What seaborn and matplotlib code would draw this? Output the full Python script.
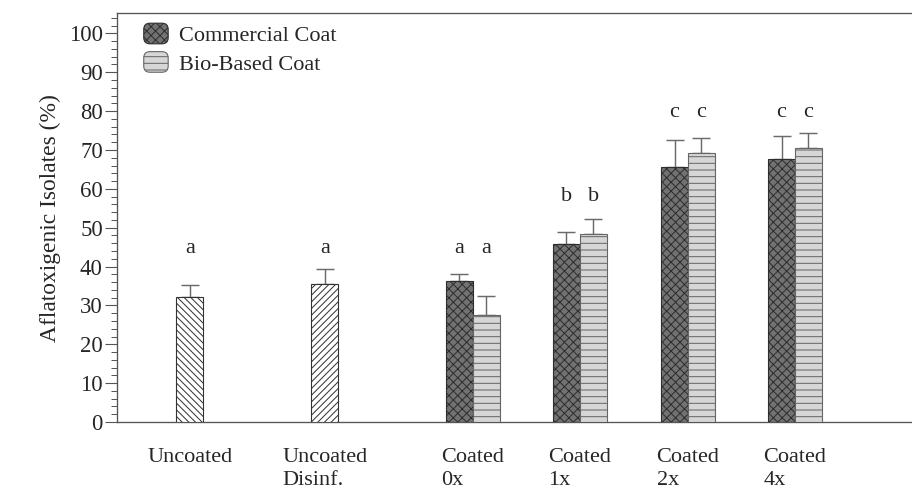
import numpy as np
import pandas as pd
import seaborn as sns
import matplotlib.pyplot as plt
from matplotlib.patches import FancyBboxPatch, Patch
from matplotlib.legend_handler import HandlerPatch
from matplotlib.ticker import MultipleLocator

# data
treatments = ["Uncoated", "Uncoated\nDisinf.", "Coated\n0x", "Coated\n1x", "Coated\n2x", "Coated\n4x"]
uncoated_vals = [32.2, 35.4]
uncoated_err = [3.1, 4.0]
uncoated_letters = ["a", "a"]
commercial_vals = [36.3, 45.7, 65.5, 67.6]
commercial_err = [1.9, 3.1, 7.0, 6.0]
commercial_letters = ["a", "b", "c", "c"]
bio_vals = [27.5, 48.3, 69.1, 70.6]
bio_err = [5.0, 4.0, 4.0, 3.8]
bio_letters = ["a", "b", "c", "c"]
letter_heights = {"a": 44.6, "b": 58.0, "c": 79.6}

# layout
centers = [0, 1.256, 2.633, 3.628, 4.633, 5.628]
bar_w = 0.25

rows = []
for i, (v, e, l) in enumerate(zip(uncoated_vals, uncoated_err, uncoated_letters)):
    rows.append((centers[i], v, e, l, ["Uncoated", "Disinfected"][i]))
for i in range(4):
    c = centers[i + 2]
    rows.append((c - bar_w / 2, commercial_vals[i], commercial_err[i], commercial_letters[i], "Commercial Coat"))
    rows.append((c + bar_w / 2, bio_vals[i], bio_err[i], bio_letters[i], "Bio-Based Coat"))
df = pd.DataFrame(rows, columns=["x", "value", "err", "letter", "series"])

hue_order = ["Uncoated", "Disinfected", "Commercial Coat", "Bio-Based Coat"]
palette = {"Uncoated": "white", "Disinfected": "white",
           "Commercial Coat": "#727272", "Bio-Based Coat": "#d6d6d6"}
hatches = {"Uncoated": "\\\\\\\\", "Disinfected": "////", "Commercial Coat": "xxx", "Bio-Based Coat": "--"}
edges = {"Uncoated": "#333333", "Disinfected": "#333333",
         "Commercial Coat": "#2e2e2e", "Bio-Based Coat": "#666666"}

sns.set_style("ticks")
plt.rcParams["font.family"] = ["Liberation Serif", "DejaVu Serif"]
plt.rcParams["hatch.linewidth"] = 0.9

fs = 20
fig = plt.figure(figsize=(11.4, 6.1125), dpi=80)
ax = fig.add_axes([0.128, 0.137, 0.872, 0.836])

sns.barplot(data=df, x="x", y="value", hue="series", hue_order=hue_order, palette=palette,
            native_scale=True, dodge=False, width=1.0, errorbar=None, legend=False,
            linewidth=1.0, ax=ax)

for cont, level in zip(ax.containers, hue_order):
    for bar in cont:
        bar.set_edgecolor(edges[level])
        bar.set_hatch(hatches[level])
        bar.set_zorder(3)

ax.errorbar(df["x"], df["value"], yerr=[np.zeros(len(df)), df["err"]], fmt="none",
            ecolor="#6a6a6a", elinewidth=1.3, capsize=8, capthick=1.3, zorder=2)

for _, r in df.iterrows():
    ax.text(r["x"], letter_heights[r["letter"]], r["letter"], ha="center", va="center", fontsize=fs)

ax.set_xlim(-0.679, 6.716)
ax.set_ylim(0, 105.2)
ax.yaxis.set_major_locator(MultipleLocator(10))
ax.yaxis.set_minor_locator(MultipleLocator(2))
ax.set_yticks(np.arange(0, 101, 10))
ax.tick_params(axis="y", which="major", length=10.5, width=1.0, labelsize=20.5, pad=2, color="#555555")
ax.tick_params(axis="y", which="minor", length=5.4, width=0.9, color="#555555")
ax.set_xticks(centers)
ax.set_xticklabels(treatments, fontsize=fs, multialignment="left", linespacing=1.3)
ax.tick_params(axis="x", length=0, pad=23)
ax.set_xlabel("")
ax.set_ylabel("Aflatoxigenic Isolates (%)", fontsize=21.2, labelpad=7)

ax.spines["right"].set_visible(False)
for s in ["left", "top", "bottom"]:
    ax.spines[s].set_color("#555555")
    ax.spines[s].set_linewidth(1.2)


def round_box(legend, orig_handle, xdescent, ydescent, width, height, fontsize):
    return FancyBboxPatch((-xdescent, -ydescent), width, height,
                          boxstyle=f"round,pad=0,rounding_size={height * 0.3}")


handles = [Patch(facecolor=palette[k], edgecolor=edges[k], hatch=hatches[k]) for k in hue_order[2:]]
ax.legend(handles, hue_order[2:], loc="upper left", bbox_to_anchor=(27 / 795, 1 - 10 / 409),
          frameon=False, fontsize=fs, borderaxespad=0, borderpad=0,
          handlelength=1.1, handleheight=1.05, handletextpad=0.5, labelspacing=0.25,
          handler_map={Patch: HandlerPatch(patch_func=round_box)})

fig.savefig("out.png", dpi=80)
